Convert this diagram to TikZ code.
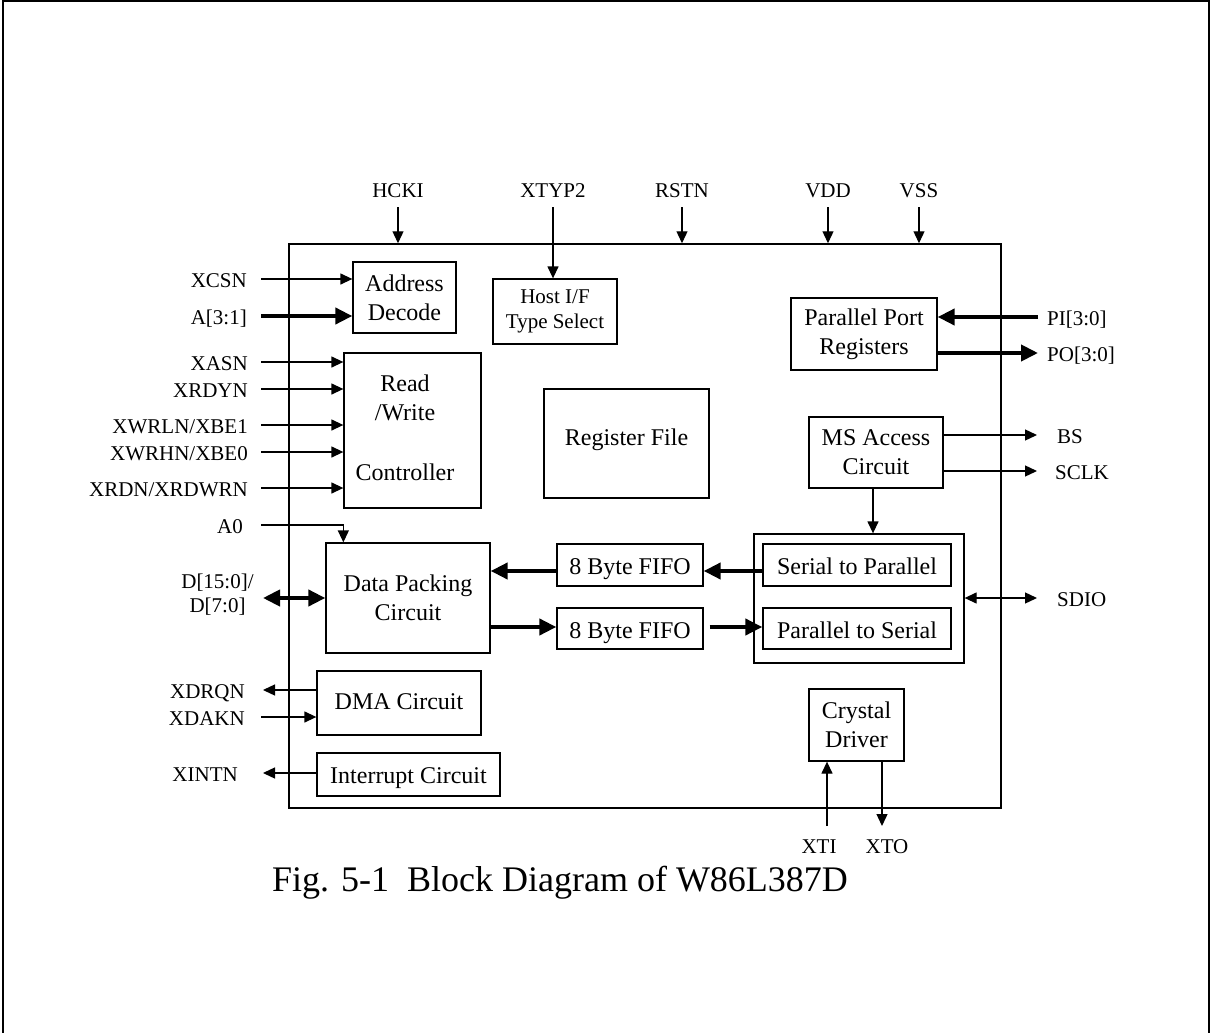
\documentclass[tikz,border=0pt]{standalone}
\usepackage{fontspec}
\setmainfont{Liberation Serif}
\usetikzlibrary{arrows.meta}
\begin{document}
\begin{tikzpicture}[x=1pt,y=-1pt,
  blk/.style={draw, line width=1.3pt, rectangle, inner sep=0pt, align=center,
    font=\fontsize{24}{29}\selectfont},
  oneline/.style={text height=19pt, text depth=0pt},
  pinlbl/.style={font=\fontsize{21}{24}\selectfont, inner sep=0pt},
  arr/.style={line width=1.3pt, -{Triangle[length=12pt,width=11pt]}},
  arrboth/.style={line width=1.3pt, {Triangle[length=12pt,width=11pt]}-{Triangle[length=12pt,width=11pt]}},
  tarr/.style={line width=4pt, -{Triangle[length=17pt,width=16pt]}},
  tarrboth/.style={line width=4pt, {Triangle[length=17pt,width=16pt]}-{Triangle[length=17pt,width=16pt]}}
]
\useasboundingbox (0,0) rectangle (1211,1033);
% page frame
\draw[line width=2pt] (3,1033) -- (3,1) -- (1209,1) -- (1209,1033);

% chip
\node[blk, line width=1.5pt, minimum width=712pt, minimum height=564pt] (chip) at (645,526) {};

% blocks
\node[blk, minimum width=103pt, minimum height=71pt] (addr) at (404.5,297.5) {Address\\Decode};
\node[blk, minimum width=124pt, minimum height=65pt, font=\fontsize{21}{25}\selectfont] (host) at (555,311.5) {Host I/F\\Type Select};
\node[blk, minimum width=137pt, minimum height=155pt] (rw) at (412.5,430.5) {};
\node[font=\fontsize{24}{29}\selectfont, align=center, inner sep=0pt] (rwtxt) at (405,427.5) {Read\\/Write\\[31pt]Controller};
\node[blk, text height=10pt, text depth=6pt, minimum width=165pt, minimum height=109pt] (regf) at (626.5,443.5) {Register File};
\node[blk, minimum width=146pt, minimum height=72pt] (ppr) at (864,334) {Parallel Port\\Registers};
\node[blk, minimum width=134pt, minimum height=71pt] (ms) at (876,452.5) {MS Access\\Circuit};
\node[blk, minimum width=164pt, minimum height=110pt] (dp) at (408,598) {Data Packing\\Circuit};
\node[blk, oneline, minimum width=146pt, minimum height=42pt] (fifo1) at (630,565) {8 Byte FIFO};
\node[blk, oneline, minimum width=146pt, minimum height=41pt] (fifo2) at (630,628.5) {8 Byte FIFO};
\node[blk, minimum width=210pt, minimum height=129pt] (ser) at (859,598.5) {};
\node[blk, oneline, minimum width=188pt, minimum height=42pt] (sp) at (857,565) {Serial to Parallel};
\node[blk, oneline, minimum width=188pt, minimum height=41pt] (ps) at (857,628.5) {Parallel to Serial};
\node[blk, text height=13pt, text depth=0pt, minimum width=164pt, minimum height=64pt] (dma) at (399,703) {DMA Circuit};
\node[blk, text height=17pt, text depth=0pt, minimum width=183pt, minimum height=43pt] (intr) at (408.5,774.5) {Interrupt Circuit};
\node[blk, minimum width=95pt, minimum height=72pt] (xtal) at (856.5,725) {Crystal\\Driver};

% top pins
\node[pinlbl, anchor=base] (lHCKI) at (398,197) {HCKI};
\node[pinlbl, anchor=base] (lXTYP2) at (553,197) {XTYP2};
\node[pinlbl, anchor=base] (lRSTN) at (682,197) {RSTN};
\node[pinlbl, anchor=base] (lVDD) at (828,197) {VDD};
\node[pinlbl, anchor=base] (lVSS) at (919,197) {VSS};
\coordinate (pHCKI) at (398,207);
\coordinate (pXTYP2) at (553,207);
\coordinate (pRSTN) at (682,207);
\coordinate (pVDD) at (828,207);
\coordinate (pVSS) at (919,207);
\draw[arr] (pHCKI) -- (pHCKI |- chip.north);
\draw[arr] (pXTYP2) -- (pXTYP2 |- host.north);
\draw[arr] (pRSTN) -- (pRSTN |- chip.north);
\draw[arr] (pVDD) -- (pVDD |- chip.north);
\draw[arr] (pVSS) -- (pVSS |- chip.north);

% left pins
\node[pinlbl, anchor=base east] (lXCSN) at (247,287) {XCSN};
\node[pinlbl, anchor=base east] (lA31) at (247,324) {A[3:1]};
\node[pinlbl, anchor=base east] (lXASN) at (248,370) {XASN};
\node[pinlbl, anchor=base east] (lXRDYN) at (248,397) {XRDYN};
\node[pinlbl, anchor=base east] (lXWRLN) at (248,433) {XWRLN/XBE1};
\node[pinlbl, anchor=base east] (lXWRHN) at (248,460) {XWRHN/XBE0};
\node[pinlbl, anchor=base east] (lXRDN) at (248,496) {XRDN/XRDWRN};
\node[pinlbl, anchor=base east] (lA0) at (243,533) {A0};
\node[pinlbl, align=center] (lD) at (217.5,595) {D[15:0]/\\D[7:0]};
\node[pinlbl, anchor=base east] (lXDRQN) at (245,698) {XDRQN};
\node[pinlbl, anchor=base east] (lXDAKN) at (245,725) {XDAKN};
\node[pinlbl, anchor=base east] (lXINTN) at (238,781) {XINTN};

\coordinate (pXCSN) at (261,279);
\coordinate (pA31) at (261,316);
\coordinate (pXASN) at (261,362);
\coordinate (pXRDYN) at (261,389);
\coordinate (pXWRLN) at (261,425);
\coordinate (pXWRHN) at (261,452);
\coordinate (pXRDN) at (261,488);
\coordinate (pA0) at (261,525);
\coordinate (pD) at (263,598);
\coordinate (pXDRQN) at (263,690);
\coordinate (pXDAKN) at (261,717);
\coordinate (pXINTN) at (263,773);

\draw[arr] (pXCSN) -- (pXCSN -| addr.west);
\draw[tarr] (pA31) -- (pA31 -| addr.west);
\draw[arr] (pXASN) -- (pXASN -| rw.west);
\draw[arr] (pXRDYN) -- (pXRDYN -| rw.west);
\draw[arr] (pXWRLN) -- (pXWRLN -| rw.west);
\draw[arr] (pXWRHN) -- (pXWRHN -| rw.west);
\draw[arr] (pXRDN) -- (pXRDN -| rw.west);
\draw[arr] (pA0) -| (dp.north -| rw.west);
\draw[tarrboth] (pD) -- (pD -| dp.west);
\draw[arr] (dma.west |- pXDRQN) -- (pXDRQN);
\draw[arr] (pXDAKN) -- (pXDAKN -| dma.west);
\draw[arr] (intr.west |- pXINTN) -- (pXINTN);

% right pins
\node[pinlbl, anchor=base west] (lPI) at (1047,325) {PI[3:0]};
\node[pinlbl, anchor=base west] (lPO) at (1047,361) {PO[3:0]};
\node[pinlbl, anchor=base west] (lBS) at (1057,443) {BS};
\node[pinlbl, anchor=base west] (lSCLK) at (1055,479) {SCLK};
\node[pinlbl, anchor=base west] (lSDIO) at (1057,606) {SDIO};
\coordinate (pPI) at (1038,317);
\coordinate (pPO) at (1038,353);
\coordinate (pBS) at (1037,435);
\coordinate (pSCLK) at (1037,471);
\coordinate (pSDIO) at (1037,598);
\draw[tarr] (pPI) -- (pPI -| ppr.east);
\draw[tarr] (ppr.east |- pPO) -- (pPO);
\draw[arr] (ms.east |- pBS) -- (pBS);
\draw[arr] (ms.east |- pSCLK) -- (pSCLK);
\draw[arrboth] (ser.east |- pSDIO) -- (pSDIO);

% internal
\coordinate (msd) at (873,0);
\draw[arr] (msd |- ms.south) -- (msd |- ser.north);
\coordinate (r1) at (0,571);
\coordinate (r2) at (0,627);
\draw[tarr] (sp.west |- r1) -- (fifo1.east |- r1);
\draw[tarr] (fifo1.west |- r1) -- (dp.east |- r1);
\draw[tarr] (dp.east |- r2) -- (fifo2.west |- r2);
\draw[tarr] ([xshift=6pt]fifo2.east |- r2) -- (ps.west |- r2);

% crystal
\node[pinlbl, anchor=base] (lXTI) at (819,853) {XTI};
\node[pinlbl, anchor=base] (lXTO) at (887,853) {XTO};
\coordinate (pXTI) at (827,826);
\coordinate (pXTO) at (882,826);
\draw[arr] (pXTI) -- (pXTI |- xtal.south);
\draw[arr] (pXTO |- xtal.south) -- (pXTO);

% caption
\node[anchor=base, inner sep=0pt, font=\fontsize{36}{40}\selectfont] (cap) at (560,891) {Fig. 5-1\ \ Block Diagram of W86L387D};
\end{tikzpicture}
\end{document}
